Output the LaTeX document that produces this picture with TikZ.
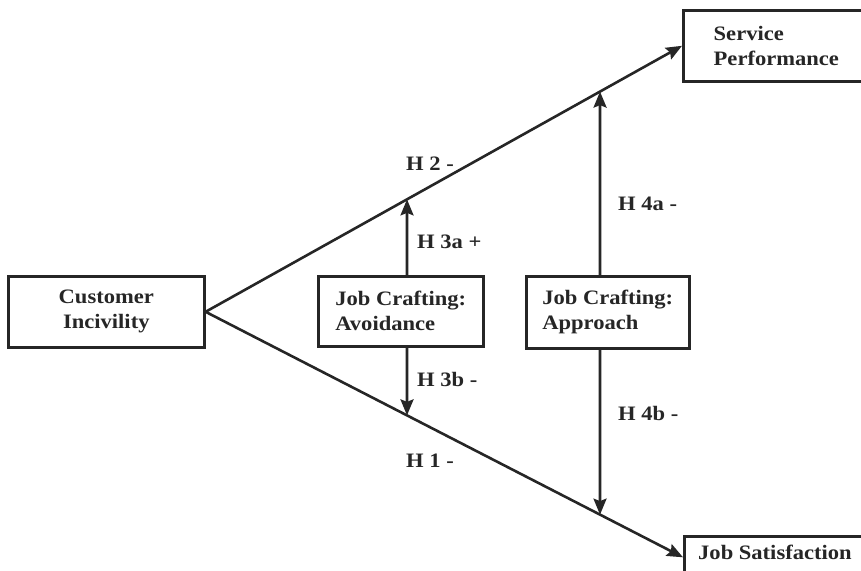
\documentclass[tikz,border=0pt]{standalone}
\usepackage{fontspec}
\setmainfont[FakeStretch=1.1]{Liberation Serif}
\usetikzlibrary{arrows.meta}
\definecolor{ink}{RGB}{38,38,38}
\begin{document}
\begin{tikzpicture}[x=1pt,y=-1pt,
  txt/.style={font=\fontsize{20.5}{25}\selectfont\bfseries, text=ink},
  box/.style={txt, draw=ink, line width=2.6pt, fill=white, inner sep=0pt, anchor=north west},
  lbl/.style={txt, inner sep=0pt, anchor=base west},
  conn/.style={draw=ink, line width=2.6pt},
  arr/.style={conn, -{Stealth[length=16pt,width=13pt,inset=2.5pt]}}]
\useasboundingbox (0,0) rectangle (861,570);
\clip (0,0) rectangle (861,570);
% boxes
\node[box, minimum width=196pt, minimum height=71pt, align=center] (ci) at (7,275) {Customer\\Incivility};
\node[box, minimum width=165pt, minimum height=70pt, align=left] (av) at (317,275) {Job Crafting:\\Avoidance};
\node[box, minimum width=163pt, minimum height=72pt, align=left] (ap) at (525,275) {Job Crafting:\\Approach};
\node[box, minimum width=186pt, minimum height=71pt, align=left] (sp) at (682,9) {Service\\Performance};
\node[box, minimum width=200pt, minimum height=42pt] (js) at (683,535) {};
\node[lbl] (jst) at (698,559) {Job Satisfaction};
% helper coordinates
\coordinate (xa1) at (407,0);
\coordinate (xa2) at (407,600);
\coordinate (xb1) at (600,0);
\coordinate (xb2) at (600,600);
% main connectors
\draw[arr] (ci.east) -- (sp.west);
\draw[arr] (ci.east) -- (js.west);
% moderating arrows
\draw[arr] (av.north -| xa1) -- (intersection of ci.east--sp.west and xa1--xa2);
\draw[arr] (av.south -| xa1) -- (intersection of ci.east--js.west and xa1--xa2);
\draw[arr] (ap.north -| xb1) -- (intersection of ci.east--sp.west and xb1--xb2);
\draw[arr] (ap.south -| xb1) -- (intersection of ci.east--js.west and xb1--xb2);
% labels
\node[lbl] (h2) at (406,170) {H 2 -};
\node[lbl] (h1) at (406,467) {H 1 -};
\node[lbl] (h3a) at (417,248) {H 3a +};
\node[lbl] (h3b) at (417,386) {H 3b -};
\node[lbl] (h4a) at (618,210) {H 4a -};
\node[lbl] (h4b) at (618,420) {H 4b -};
\end{tikzpicture}
\end{document}
